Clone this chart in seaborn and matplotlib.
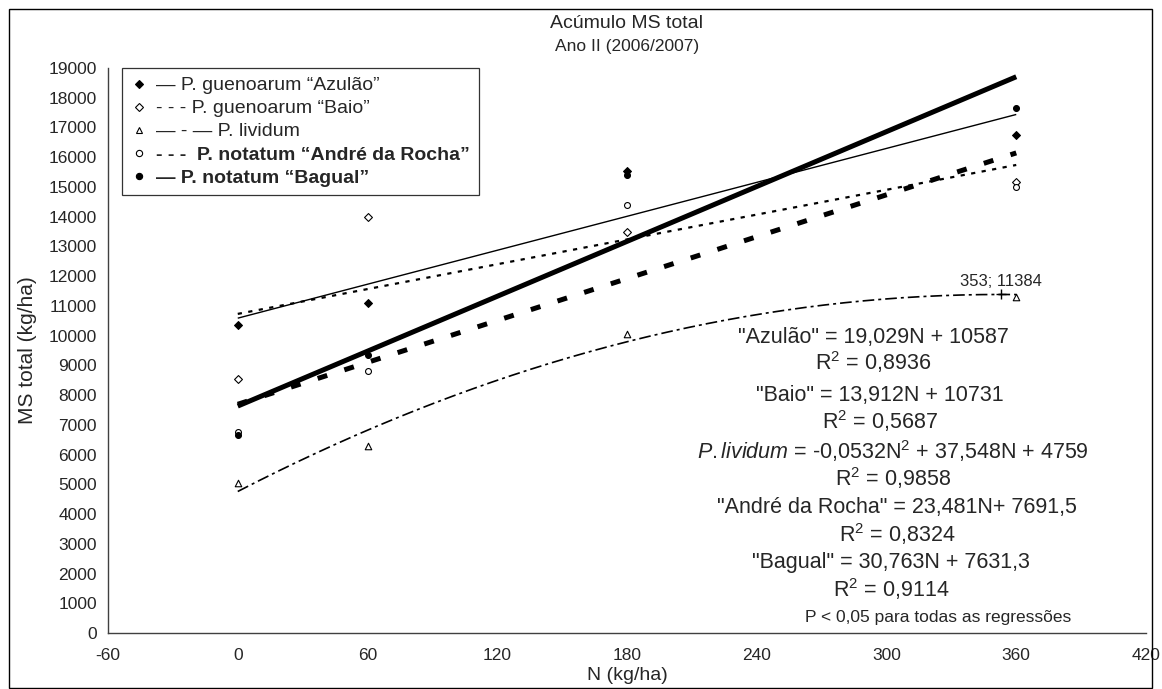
import numpy as np
import pandas as pd
import matplotlib
matplotlib.use("Agg")
import matplotlib.pyplot as plt
import seaborn as sns
from matplotlib.lines import Line2D
from matplotlib.patches import Rectangle

# ---------------- data ----------------
N_levels = [0, 60, 180, 360]
azulao = [10350, 11100, 15550, 16750]
baio = [8550, 14000, 13500, 15150]
lividum = [5050, 6300, 10050, 11300]
andre = [6750, 8800, 14400, 15000]
bagual = [6650, 9350, 15400, 17650]

series_names = ["Azulão", "Baio", "lividum", "André da Rocha", "Bagual"]
legend_labels = ['— P. guenoarum “Azulão”',
                 '- - - P. guenoarum “Baio”',
                 '— - — P. lividum',
                 '- - -  P. notatum “André da Rocha”',
                 '— P. notatum “Bagual”']

# regression coefficients (a2, a1, a0)
coef_azulao = [0.0, 19.029, 10587]
coef_baio = [0.0, 13.912, 10731]
coef_lividum = [-0.0532, 37.548, 4759]
coef_andre = [0.0, 23.481, 7691.5]
coef_bagual = [0.0, 30.763, 7631.3]

eq_texts = ['"Azulão" = 19,029N + 10587',
            '"Baio" = 13,912N + 10731',
            r'$\mathit{P.lividum}$ = -0,0532N$^2$ + 37,548N + 4759',
            '"André da Rocha" = 23,481N+ 7691,5',
            '"Bagual" = 30,763N + 7631,3']
r2_texts = ['R$^2$ = 0,8936', 'R$^2$ = 0,5687', 'R$^2$ = 0,9858',
            'R$^2$ = 0,8324', 'R$^2$ = 0,9114']
vertex_label = "353; 11384"
vertex_x = [353]
vertex_y = [11384]

xticks = [-60, 0, 60, 120, 180, 240, 300, 360, 420]
yticks = list(range(0, 19001, 1000))

# ---------------- style ----------------
sns.set_theme(style="white")
plt.rcParams["font.family"] = ["Liberation Sans", "DejaVu Sans"]
plt.rcParams["mathtext.fontset"] = "custom"
plt.rcParams["mathtext.rm"] = "Liberation Sans"
plt.rcParams["mathtext.it"] = "Liberation Sans:italic"
plt.rcParams["mathtext.bf"] = "Liberation Sans:bold"
plt.rcParams["axes.unicode_minus"] = False

values = [azulao, baio, lividum, andre, bagual]
coefs = [coef_azulao, coef_baio, coef_lividum, coef_andre, coef_bagual]
markers = ["D", "D", "^", "o", "o"]
mfill = ["black", "white", "white", "white", "black"]
msize = [16, 16, 22, 18, 18]
lws = [1.0, 1.6, 1.2, 3.6, 3.6]
lstyles = ["-", (0, (1.9, 2.9)), (0, (7, 2.4, 1.8, 2.4)), (0, (2.0, 3.6)), "-"]

pts = pd.DataFrame({
    "N": np.tile(N_levels, len(series_names)),
    "MS": np.concatenate(values),
    "serie": np.repeat(series_names, len(N_levels)),
})

fig = plt.figure(figsize=(11.62, 6.89), dpi=100)
ax = fig.add_axes([108 / 1162, 1 - 633 / 689, (1146 - 108) / 1162, (633 - 68) / 689])

# trend curves
for name, c, lw, ls in zip(series_names, coefs, lws, lstyles):
    nn = np.linspace(0, 360, 200)
    yy = np.polyval(c, nn)
    sns.lineplot(x=nn, y=yy, ax=ax, color="black", lw=lw, linestyle=ls,
                 dash_capstyle="butt", solid_capstyle="butt", zorder=2)

# observed points
for name, m, fc, s in zip(series_names, markers, mfill, msize):
    sub = pts[pts["serie"] == name]
    sns.scatterplot(data=sub, x="N", y="MS", ax=ax, marker=m, s=s,
                    color=fc, edgecolor="black", linewidth=0.8, zorder=3)

# vertex of quadratic
sns.scatterplot(x=vertex_x, y=vertex_y, ax=ax, marker="+", s=60,
                color="black", linewidth=1.0, zorder=4)
ax.text(vertex_x[0], vertex_y[0] + 180, vertex_label, ha="center", va="bottom",
        fontsize=12)

ax.set_xlim(-60, 420)
ax.set_ylim(0, 19000)
ax.set_xticks(xticks)
ax.set_yticks(yticks)
ax.tick_params(axis="both", which="major", labelsize=12.5, length=5, width=0.8,
               color="#404040", direction="out", pad=3)
ax.tick_params(axis="x", pad=6)
for sp in ["top", "right"]:
    ax.spines[sp].set_visible(False)
for sp in ["left", "bottom"]:
    ax.spines[sp].set_color("#404040")
    ax.spines[sp].set_linewidth(1.0)
ax.set_xlabel("N (kg/ha)", fontsize=14, labelpad=3)
ax.set_ylabel("MS total (kg/ha)", fontsize=15, labelpad=8)
ax.grid(False)

# legend
handles = []
for m, fc in zip(markers, mfill):
    handles.append(Line2D([], [], linestyle="none", marker=m,
                          markerfacecolor=fc, markeredgecolor="black",
                          markersize=4.5, markeredgewidth=0.8))
leg = ax.legend(handles, legend_labels, loc="upper left",
                bbox_to_anchor=(14 / 1038, 1.0), borderaxespad=0,
                fontsize=14, frameon=True, fancybox=False, handlelength=0.8,
                handletextpad=0.5, labelspacing=0.28, borderpad=0.45)
leg.get_frame().set_edgecolor("black")
leg.get_frame().set_linewidth(0.9)
for i, t in enumerate(leg.get_texts()):
    if i >= 3:
        t.set_fontweight("bold")

# equations
eq_x = [294, 297, 303, 305, 302]
eq_y = [9953, 8003, 6120, 4237, 2387]
r2_y = [9112, 7128, 5212, 3329, 1480]
for ex, ey, ry, et, rt in zip(eq_x, eq_y, r2_y, eq_texts, r2_texts):
    ax.text(ex, ey, et, ha="center", va="center", fontsize=15.5)
    ax.text(ex, ry, rt, ha="center", va="center", fontsize=15.5)
ax.text(324, 538, "P < 0,05 para todas as regressões", ha="center",
        va="center", fontsize=12.5)

# titles
fig.text(627 / 1162, 1 - 23 / 689, "Acúmulo MS total", ha="center",
         va="center", fontsize=14)
fig.text(627 / 1162, 1 - 46 / 689, "Ano II (2006/2007)", ha="center",
         va="center", fontsize=12.5)

# outer border
fig.patches.append(Rectangle((9 / 1162, 1 / 689), (1152 - 9) / 1162,
                             (680 - 1) / 689, transform=fig.transFigure,
                             fill=False, edgecolor="black", lw=1.0))

fig.savefig("out.png", dpi=100)
